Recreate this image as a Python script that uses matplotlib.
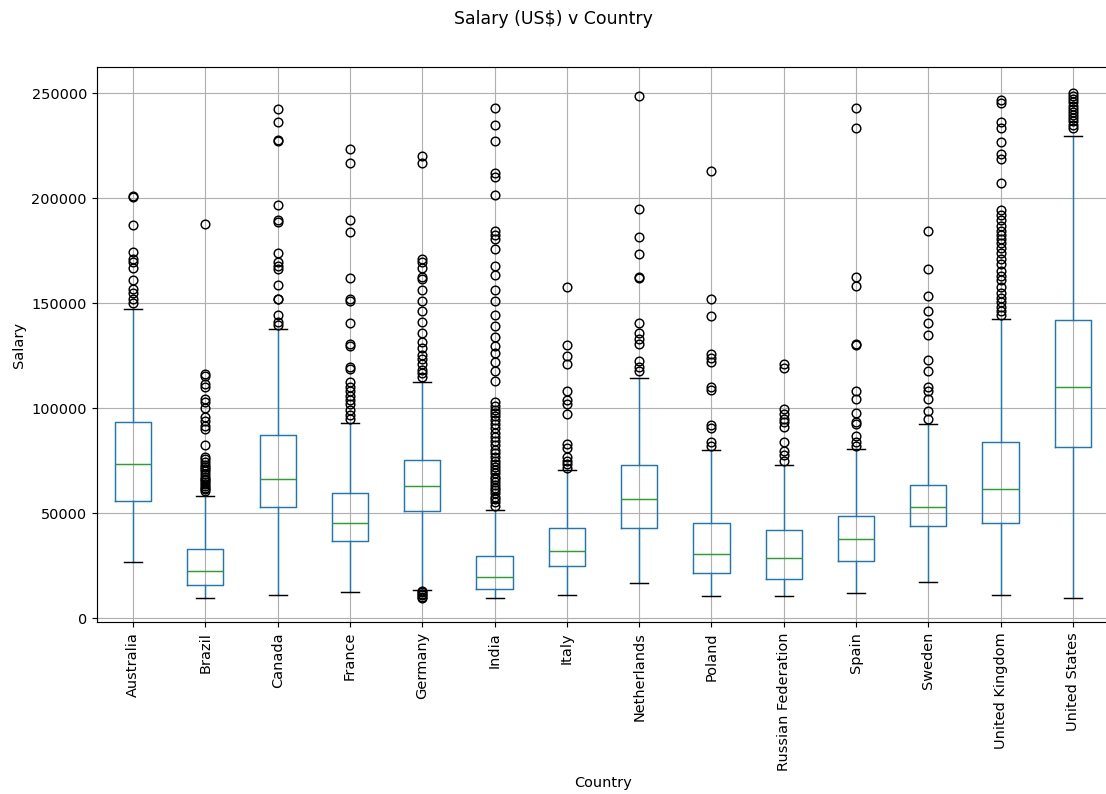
import matplotlib
matplotlib.use('Agg')
import matplotlib.pyplot as plt

# salary summary per country (US$)
countries = ['Australia', 'Brazil', 'Canada', 'France', 'Germany', 'India',
             'Italy', 'Netherlands', 'Poland', 'Russian Federation', 'Spain',
             'Sweden', 'United Kingdom', 'United States']

whislo = [26500, 9700, 10900, 12300, 13200, 9700, 10900,
          16600, 10400, 10400, 11800, 17300, 10900, 9700]
q1 = [55800, 15900, 52800, 36900, 50800, 13900, 25000,
      43100, 21300, 18700, 27000, 43800, 45200, 81600]
med = [73300, 22200, 66200, 45200, 62900, 19600, 31900,
       56500, 30700, 28600, 37600, 53000, 61200, 110200]
q3 = [93500, 32700, 87200, 59300, 75400, 29300, 43100,
      72800, 45200, 41800, 48700, 63400, 83700, 141700]
whishi = [147300, 58000, 137600, 92900, 112400, 51600, 70300,
          114500, 80200, 72800, 80700, 92200, 142400, 229700]

fliers = [
    # Australia
    [150000, 152100, 154700, 156800, 160800, 166800, 169300, 171200,
     174100, 187100, 200400, 201000],
    # Brazil
    [60300, 61200, 62000, 63000, 63800, 64700, 65500, 66400, 67200, 68500,
     69800, 71000, 71900, 73000, 74200, 75500, 76800, 82500, 89800, 91500,
     94000, 95800, 100000, 102700, 104500, 110200, 111400, 115200, 116200,
     187800],
    # Canada
    [139600, 140900, 144300, 151800, 152100, 158700, 166000, 167400,
     169400, 173800, 188800, 189400, 196800, 227100, 227800, 236100, 242600],
    # France
    [94900, 96700, 98900, 101900, 103600, 105900, 108300, 110200, 112300,
     118700, 119500, 129600, 130500, 140500, 150900, 152100, 162000,
     183800, 189400, 216600, 223500],
    # Germany
    [9500, 10200, 10800, 11500, 12200, 12800, 114900, 116600, 118300,
     120900, 123500, 125300, 128700, 131300, 135700, 140900, 146000,
     151200, 156400, 161600, 162500, 166800, 169400, 171200, 216700, 220200],
    # India
    [53400, 55100, 56800, 57700, 59400, 61000, 62000, 63500, 64600, 66000,
     67200, 69000, 70700, 72000, 73300, 75000, 76800, 78500, 80200, 82500,
     84500, 86000, 88000, 90600, 92300, 94100, 96000, 97500, 99200, 101000,
     102700, 113100, 117500, 121800, 126100, 129600, 133900, 139100,
     144300, 151200, 156400, 163400, 167700, 175800, 180700, 182500,
     184200, 201500, 210200, 211700, 227100, 234700, 243100],
    # Italy
    [71600, 73300, 75000, 76800, 81100, 82800, 97200, 101900, 103600,
     108300, 120900, 124700, 130100, 157800],
    # Netherlands
    [117500, 119700, 122500, 130500, 133100, 135700, 140500, 162000,
     162500, 173300, 181600, 194900, 248800],
    # Poland
    [82000, 83700, 90600, 91800, 108800, 110200, 121800, 123900, 125600,
     143800, 152100, 213100],
    # Russian Federation
    [75000, 77600, 79400, 84000, 91000, 93200, 94900, 97200, 99600,
     119200, 120900],
    # Spain
    [81900, 84000, 86600, 92300, 93200, 97500, 104500, 108300, 129900,
     130500, 158200, 162200, 233500, 243100],
    # Sweden
    [94900, 98400, 104100, 108300, 110000, 117500, 123000, 134800, 140500,
     146000, 153500, 166300, 184500],
    # United Kingdom
    [144300, 146000, 148100, 150400, 152500, 154700, 157800, 160800,
     163000, 165100, 168600, 171200, 173800, 176400, 178500, 180700,
     182500, 184200, 186800, 189400, 191800, 194200, 207000, 218800,
     220900, 226600, 233500, 236100, 245100, 246500],
    # United States
    [233500, 235000, 236500, 238000, 239500, 241000, 242500, 244000,
     245500, 247000, 248500, 250000],
]

stats = []
for i, name in enumerate(countries):
    stats.append({
        'label': name,
        'whislo': whislo[i],
        'q1': q1[i],
        'med': med[i],
        'q3': q3[i],
        'whishi': whishi[i],
        'fliers': fliers[i],
    })

DPI = 104
fig = plt.figure(figsize=(1106 / DPI, 794 / DPI), dpi=DPI)
# axes run slightly past the right edge of the figure
ax = fig.add_axes([97 / 1106, 1 - 622 / 794, 1012 / 1106, 555 / 794])

ax.bxp(stats,
       boxprops=dict(color='C0'),
       whiskerprops=dict(color='C0'),
       medianprops=dict(color='C2'),
       capprops=dict(color='k'),
       flierprops=dict(marker='o', markeredgecolor='black',
                       markerfacecolor='none', markersize=6))

ax.grid(True, color='#b0b0b0', linewidth=0.8)
ax.set_axisbelow(True)
ax.set_ylim(-1900, 262400)
ax.set_xlim(0.5, 14.5)
ax.tick_params(axis='x', labelrotation=90)
ax.set_xlabel('Country')
ax.set_ylabel('Salary')
fig.suptitle('Salary (US$) v Country', y=0.988)

fig.savefig('out.png', dpi=DPI)
